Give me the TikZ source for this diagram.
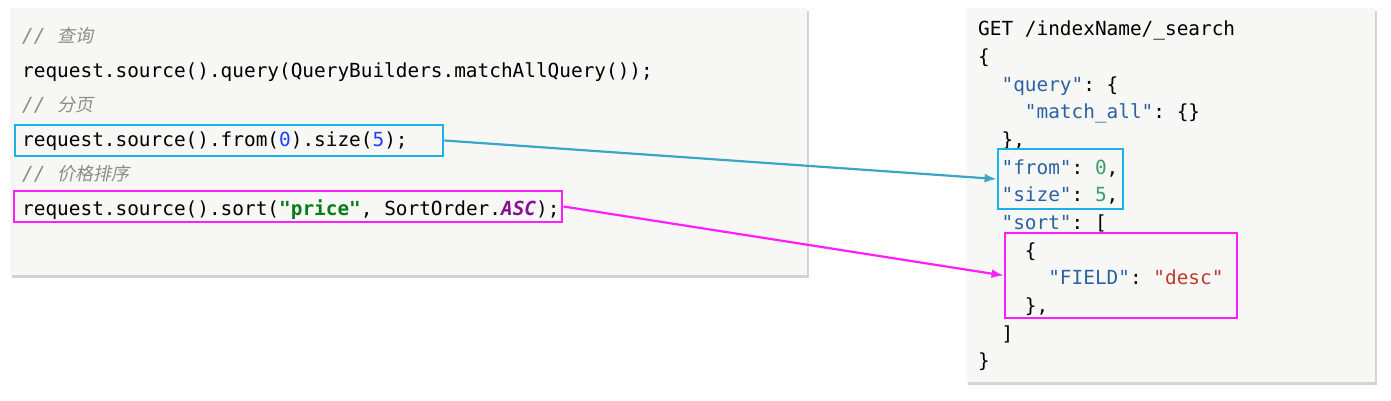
\documentclass[tikz,border=0pt]{standalone}
\usepackage{fontspec}
\setmonofont{DejaVu Sans Mono}
\newfontfamily\cjkfont[FakeSlant=0.2]{Noto Sans CJK SC}
\usetikzlibrary{positioning,shadows,arrows.meta}

\definecolor{panelbg}{HTML}{F7F8F5}
\definecolor{cmtgray}{HTML}{8C8C8C}
\definecolor{boxblue}{HTML}{1AB0EA}
\definecolor{arrowblue}{HTML}{3AA5C6}
\definecolor{boxpink}{HTML}{FF1EFF}
\definecolor{jsonkey}{HTML}{2A62A4}
\definecolor{jsonnum}{HTML}{3A9D6A}
\definecolor{jsonstr}{HTML}{C0392B}
\definecolor{javanum}{HTML}{1F3FFF}
\definecolor{javastr}{HTML}{067D17}
\definecolor{javaconst}{HTML}{871094}

\newcommand{\codesize}{\fontsize{19.4}{22}\selectfont}
\newcommand{\cmt}[1]{\textcolor{cmtgray}{\itshape //\ {\cjkfont\fontsize{18}{20}\selectfont #1}}}
\newcommand{\jk}[1]{\textcolor{jsonkey}{#1}}

\begin{document}
\begin{tikzpicture}[x=1pt,y=-1pt,
  panel/.style={fill=panelbg, drop shadow={shadow xshift=1.5pt, shadow yshift=-2.5pt, opacity=0.35}},
  codeline/.style={anchor=base west, inner sep=0pt, font=\codesize\ttfamily},
  bluebox/.style={draw=boxblue, line width=2.8pt, inner sep=0pt},
  pinkbox/.style={draw=boxpink, line width=2.8pt, inner sep=0pt},
  bluearrow/.style={draw=arrowblue, line width=2.2pt, -{Latex[length=12pt,width=9pt]}},
  pinkarrow/.style={draw=boxpink, line width=2.2pt, -{Latex[length=12pt,width=9pt]}}]
\useasboundingbox (0,0) rectangle (1391,400);

% panels
\path[panel] (10,8) rectangle (807,275);
\path[panel] (966,8) rectangle (1375,382);

% java code
\node[codeline] (cmtQuery) at (22,42) {\cmt{查询}};
\node[codeline] (lineQuery) at (22,77) {request.source().query(QueryBuilders.matchAllQuery());};
\node[codeline] (cmtPage) at (22,111) {\cmt{分页}};
\node[codeline] (lineFrom) at (22,146) {request.source().from(\textcolor{javanum}{0}).size(\textcolor{javanum}{5});};
\node[codeline] (cmtSort) at (22,180) {\cmt{价格排序}};
\node[codeline] (lineSort) at (22,215) {request.source().sort(\textcolor{javastr}{\bfseries"price"}, SortOrder.\textcolor{javaconst}{\bfseries\itshape ASC});};

% json request
\node[codeline] (jsonGet) at (978,35) {GET /indexName/\_search};
\node[codeline] (jsonOpen) at (978,63) {\{};
\node[codeline] (jsonQuery) at (978,91) {\ \ \jk{"query"}: \{};
\node[codeline] (jsonMatch) at (978,118) {\ \ \ \ \jk{"match\_all"}: \{\}};
\node[codeline] (jsonQueryEnd) at (978,146) {\ \ \},};
\node[codeline] (jsonFrom) at (978,174) {\ \ \jk{"from"}: \textcolor{jsonnum}{0},};
\node[codeline] (jsonSize) at (978,201) {\ \ \jk{"size"}: \textcolor{jsonnum}{5},};
\node[codeline] (jsonSort) at (978,229) {\ \ \jk{"sort"}: [};
\node[codeline] (jsonFieldOpen) at (978,257) {\ \ \ \ \{};
\node[codeline] (jsonField) at (978,284) {\ \ \ \ \ \ \jk{"FIELD"}: \textcolor{jsonstr}{"desc"}};
\node[codeline] (jsonFieldEnd) at (978,312) {\ \ \ \ \},};
\node[codeline] (jsonSortEnd) at (978,340) {\ \ ]};
\node[codeline] (jsonClose) at (978,367) {\}};

% highlight boxes
\node[bluebox, minimum width=428pt, minimum height=31pt] (fromJava) at (229,140.5) {};
\node[pinkbox, minimum width=548pt, minimum height=31pt] (sortJava) at (288,206.5) {};
\node[bluebox, minimum width=125pt, minimum height=60pt] (fromJson) at (1060.5,179) {};
\node[pinkbox, minimum width=232pt, minimum height=85pt] (sortJson) at (1121,275.5) {};

% arrows
\draw[bluearrow] (fromJava.east) -- (fromJson.west);
\draw[pinkarrow] (sortJava.east) -- (sortJson.west);
\end{tikzpicture}
\end{document}
